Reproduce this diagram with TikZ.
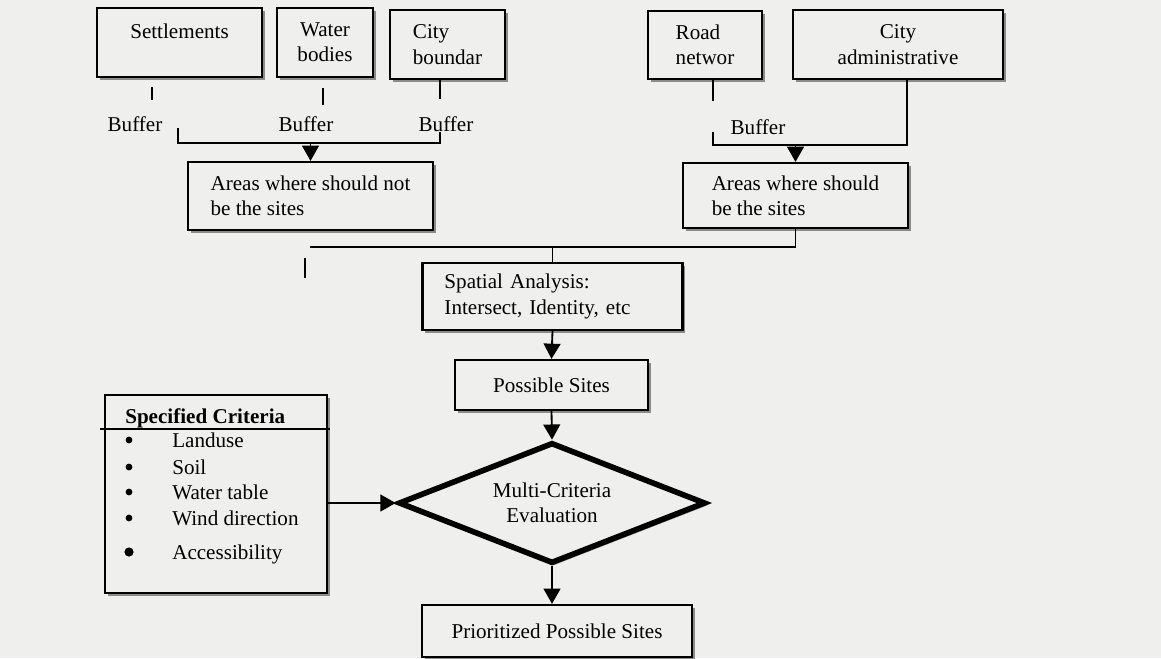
\documentclass[tikz,border=0pt]{standalone}
\usepackage{fontspec}
\setmainfont{Liberation Serif}
\usetikzlibrary{arrows.meta,shapes.geometric,shadows}
\definecolor{paper}{RGB}{239,239,237}
\tikzset{
  txt/.style={font=\fontsize{15}{18}\selectfont},
  box/.style={txt, draw, fill=paper, line width=1.6pt, align=left, inner sep=0pt,
    drop shadow={shadow xshift=1.8pt, shadow yshift=-1.8pt, fill=black!55, opacity=.8}},
  lbl/.style={txt, inner sep=0pt, text height=1.5ex, text depth=.25ex},
  link/.style={line width=1.3pt},
  flow/.style={line width=1.3pt, -{Triangle[width=0.42cm, length=0.38cm]}},
}
\begin{document}
\begin{tikzpicture}[x=0.025cm, y=-0.025cm]
  \fill[paper] (0,0) rectangle (1161,658);
  \useasboundingbox (0,0) rectangle (1161,658);

  % input layers
  \node[box, minimum width=4.125cm, minimum height=1.725cm, text depth=16pt] (sett) at (179.5,42.5) {Settlements};
  \node[box, align=center, minimum width=2.4cm, minimum height=1.725cm] (water) at (325,42.5) {Water\\bodies};
  \node[box, minimum width=2.875cm, minimum height=1.725cm] (bound) at (447.5,44.5) {City\\boundar};
  \node[box, minimum width=2.85cm, minimum height=1.7cm] (road) at (705,45) {Road\\networ};
  \node[box, align=center, minimum width=5.25cm, minimum height=1.725cm] (admin) at (898,44.5) {City\\administrative};

  \node[lbl] (buf1) at (135,127) {Buffer};
  \node[lbl] (buf2) at (306,127) {Buffer};
  \node[lbl] (buf3) at (446,127) {Buffer};
  \node[lbl] (buf4) at (758,130) {Buffer};

  % intermediate results
  \node[box, minimum width=6.125cm, minimum height=1.7cm] (nots) at (310.5,196) {Areas where should not\\be the sites};
  \node[box, minimum width=5.625cm, minimum height=1.625cm] (should) at (795.5,195.5) {Areas where should\\be the sites};
  \node[box, text width=5.4cm, inner xsep=0.55cm, minimum height=1.675cm] (spatial) at (552.5,296.5) {Spatial Analysis:\\Intersect, Identity, etc};
  \node[box, align=center, minimum width=4.825cm, minimum height=1.25cm] (possible) at (551.5,385) {Possible Sites};
  \node[box, diamond, aspect=2.54, align=center, line width=4pt, minimum width=7.675cm, minimum height=3.025cm] (mce) at (552,503) {Multi-Criteria\\Evaluation};
  \node[box, align=center, minimum width=6.75cm, minimum height=1.3cm] (prior) at (557,631) {Prioritized Possible Sites};

  % criteria
  \node[box, minimum width=5.55cm, minimum height=4.95cm] (crit) at (216,494) {};
  \draw[link] (100,429) -- (330,429);
  \node[lbl, font=\fontsize{15}{18}\selectfont\bfseries, anchor=west] (crithead) at (125,419) {Specified Criteria};
  \foreach \y/\t/\r [count=\i] in {443/Landuse/3.4, 470/Soil/3.4, 495/Water table/3.4, 521/Wind direction/3.4, 555/Accessibility/4.6} {
    \fill (129,\y-3) circle (\r);
    \node[lbl, anchor=west] (item\i) at (172,\y) {\t};
  }

  % connectors
  \coordinate (m1) at (178,143);
  \coordinate (m2) at (440,143);
  \coordinate (r1) at (713,145);
  \coordinate (r2) at (907,145);
  \coordinate (l1) at (310,247);
  \draw[link] (152,87) -- (152,100);
  \draw[link] (323,88) -- (323,105);
  \draw[link] (bound.south -| m2) -- ++(0,19);
  \draw[link] (178,128) -- (m1) -- (m2) -- ++(0,-11);
  \draw[flow] (nots.north |- m2) -- (nots.north);
  \draw[link] (road.south -| r1) -- ++(0,21);
  \draw[link] (713,132) -- (r1) -- (r2) -- (admin.south -| r2);
  \draw[flow] (should.north |- r1) -- (should.north);
  \draw[link] (should.south) |- (l1);
  \draw[link] (305,258) -- (305,278);
  \draw[link] (spatial.north |- l1) -- (spatial.north);
  \draw[flow] (spatial.south) -- (possible.north);
  \draw[flow] (possible.south) -- (mce.north);
  \draw[flow] (mce.south) -- (mce.south |- prior.north);
  \draw[flow] (crit.east |- mce.west) -- (mce.west);
\end{tikzpicture}
\end{document}
